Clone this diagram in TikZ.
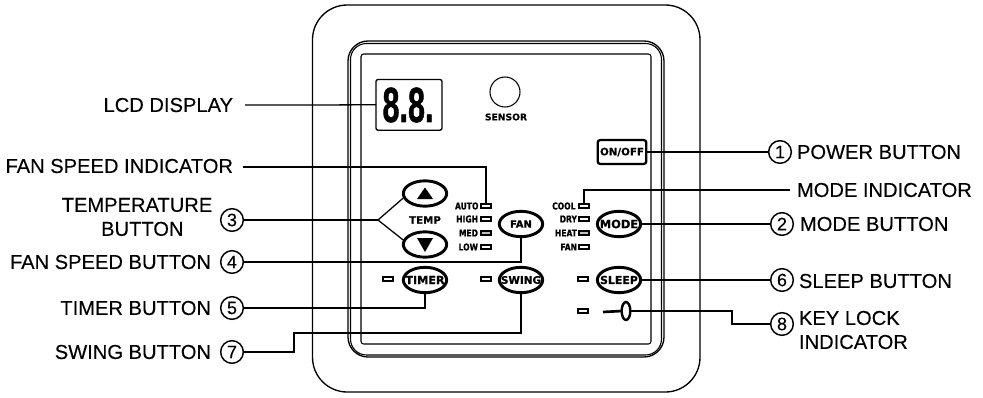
\documentclass[tikz,border=0pt]{standalone}
\usepackage{fontspec}
\setmainfont{Liberation Sans}
\newfontfamily\panelfont[FakeBold=0.6]{DejaVu Sans Bold}
\newfontfamily\digitfont[FakeBold=1.2]{Liberation Sans Bold}
\newfontfamily\lblfont[FakeBold=0.2]{Liberation Sans}
\usetikzlibrary{shapes.geometric}
\newcommand{\paneltext}[2]{\makebox[0pt]{\fontsize{#1}{#1}\panelfont #2}}
\newcommand{\tinytext}[1]{\scalebox{1}[1.25]{#1}}
\tikzset{
  x=0.75pt,y=-0.75pt,
  every node/.style={inner sep=0pt,outer sep=0pt},
  conn/.style={line width=0.95pt,line join=miter},
  frame/.style={line width=1pt},
  lbl/.style={font=\fontsize{15.1pt}{17pt}\lblfont,align=center},
  num/.style={circle,draw,line width=1.1pt,minimum size=17pt,font=\fontsize{13.5pt}{14pt}\lblfont},
  btn/.style={ellipse,draw,line width=2.2pt,minimum width=32.5pt,minimum height=19pt},
  ind/.style={rectangle,draw,line width=0.8pt,fill=white,minimum width=7.5pt,minimum height=3pt},
  tiny/.style={font=\fontsize{5.7pt}{6pt}\panelfont}
}
\begin{document}
\begin{tikzpicture}
\useasboundingbox (0,0) rectangle (983,397);
% housing
\draw[frame,rounded corners=26pt] (312.5,5) rectangle (700,392);
\draw[frame,rounded corners=15pt] (348,41) rectangle (664,357);
\draw[line width=0.8pt,rounded corners=12pt] (350.5,43.5) rectangle (661.5,355);
\draw[line width=0.8pt,rounded corners=2pt] (361,54) rectangle (651,344);
% display
\node[draw,line width=1pt,rounded corners=1.5pt,minimum width=49.5pt,minimum height=38pt,anchor=north west] (lcd) at (376,79.5) {};
\node (digits) at (408,105) {\scalebox{0.62}[1]{\fontsize{37pt}{37pt}\digitfont 8.8.}};
\node[circle,draw,line width=0.8pt,minimum size=22.5pt] (sensor) at (505,92) {};
\node (sensortext) at (506,117) {\paneltext{6.9pt}{SENSOR}};
\node[draw,line width=1.7pt,rounded corners=2pt,minimum width=36.5pt,minimum height=18pt] (onoff) at (622,152) {\paneltext{7.7pt}{ON/OFF}};
% buttons
\node[btn] (tup) at (425,193.5) {};
\node[btn] (tdown) at (425,244.5) {};
\fill (425,187.5) -- (433,199) -- (417,199) -- cycle;
\fill (425,252) -- (433,238) -- (417,238) -- cycle;
\node (temp) at (425,220) {\paneltext{7.7pt}{TEMP}};
\node[btn] (fan) at (521,224) {\paneltext{7.5pt}{FAN}};
\node[btn] (mode) at (619,224) {\paneltext{8.6pt}{MODE}};
\node[btn] (timer) at (425,280) {\paneltext{8.4pt}{TIMER}};
\node[btn] (swing) at (521,280) {\paneltext{7.8pt}{SWING}};
\node[btn] (sleep) at (619,280) {\paneltext{8.2pt}{SLEEP}};
% indicators
\foreach \n/\y/\c in {auto/206/white,high/219/white,med/233/gray!50,low/247/white}{
  \node[ind,fill=\c] (\n) at (486,\y) {};}
\foreach \n/\y/\c in {cool/206/white,dry/219/white,heat/233/gray!50,fanind/247/white}{
  \node[ind,fill=\c] (\n) at (584,\y) {};}
\node[tiny,anchor=east] at (478.5,206) {\tinytext{AUTO}};
\node[tiny,anchor=east] at (478,219) {\tinytext{HIGH}};
\node[tiny,anchor=east] at (478,233) {\tinytext{MED}};
\node[tiny,anchor=east] at (478,247) {\tinytext{LOW}};
\node[tiny,anchor=east] at (575.5,206) {\tinytext{COOL}};
\node[tiny,anchor=east] at (577,219) {\tinytext{DRY}};
\node[tiny,anchor=east] at (577,233) {\tinytext{HEAT}};
\node[tiny,anchor=east] at (577,247) {\tinytext{FAN}};
\node[ind] (itimer) at (388,279) {};
\node[ind] (iswing) at (486,279) {};
\node[ind] (isleep) at (583,279) {};
\node[ind] (ikey) at (583,311) {};
% key
\node[ellipse,draw,line width=1.8pt,minimum width=6.5pt,minimum height=13.5pt] (key) at (626,311) {};
\coordinate (keyend) at (603,312);
\draw[line width=2pt] (keyend) -- (key.west);
% right numbers and labels
\node[num] (n1) at (780,152) {1};
\node[num] (n2) at (782,224) {2};
\node[num] (n6) at (782,280) {6};
\node[num] (n8) at (782,324) {8};
\node[lbl,anchor=west] at (797,152) {POWER BUTTON};
\node[lbl,anchor=west] (modeind) at (797,190) {MODE INDICATOR};
\node[lbl,anchor=west] at (800,224) {MODE BUTTON};
\node[lbl,anchor=west] at (799,281) {SLEEP BUTTON};
\node[lbl,anchor=west,align=left] at (799,330) {KEY LOCK\\[1pt]INDICATOR};
% left numbers and labels
\node[num] (n3) at (232,220) {3};
\node[num] (n4) at (232,262) {4};
\node[num] (n5) at (232,308) {5};
\node[num] (n7) at (232,352) {7};
\node[lbl] at (137,217) {TEMPERATURE\\[1pt]\hspace*{8pt}BUTTON};
\node[lbl,anchor=east] at (211,262) {FAN SPEED BUTTON};
\node[lbl,anchor=east] at (211,308) {TIMER BUTTON};
\node[lbl,anchor=east] at (211,352) {SWING BUTTON};
\node[lbl,anchor=east] at (233,105) {LCD DISPLAY};
\node[lbl,anchor=east] at (233,166) {FAN SPEED INDICATOR};
% connectors
\coordinate (lcdfree) at (245,105);
\coordinate (fanindfree) at (243,167);
\coordinate (modefree) at (790,190);
\coordinate (split) at (378,220);
\draw[conn] (lcdfree) -- (lcd.west);
\draw[conn] (fanindfree) -| (auto.north);
\draw[conn] (cool.north) |- (modefree);
\draw[conn] (onoff.east) -- (n1.west);
\draw[conn] (mode.east) -- (n2.west);
\draw[conn] (sleep.east) -- (n6.west);
\draw[conn] (key.east) -- (732,311) -- (732,324) -- (n8.west);
\draw[conn] (n3.east) -- (split);
\draw[conn] (tup.190) -- (split) -- (tdown.170);
\draw[conn] (n4.east) -| (fan.south);
\draw[conn] (n5.east) -| (timer.south);
\draw[conn] (n7.east) -- (294,352) -- (294,333) -| (swing.south);
\end{tikzpicture}
\end{document}
